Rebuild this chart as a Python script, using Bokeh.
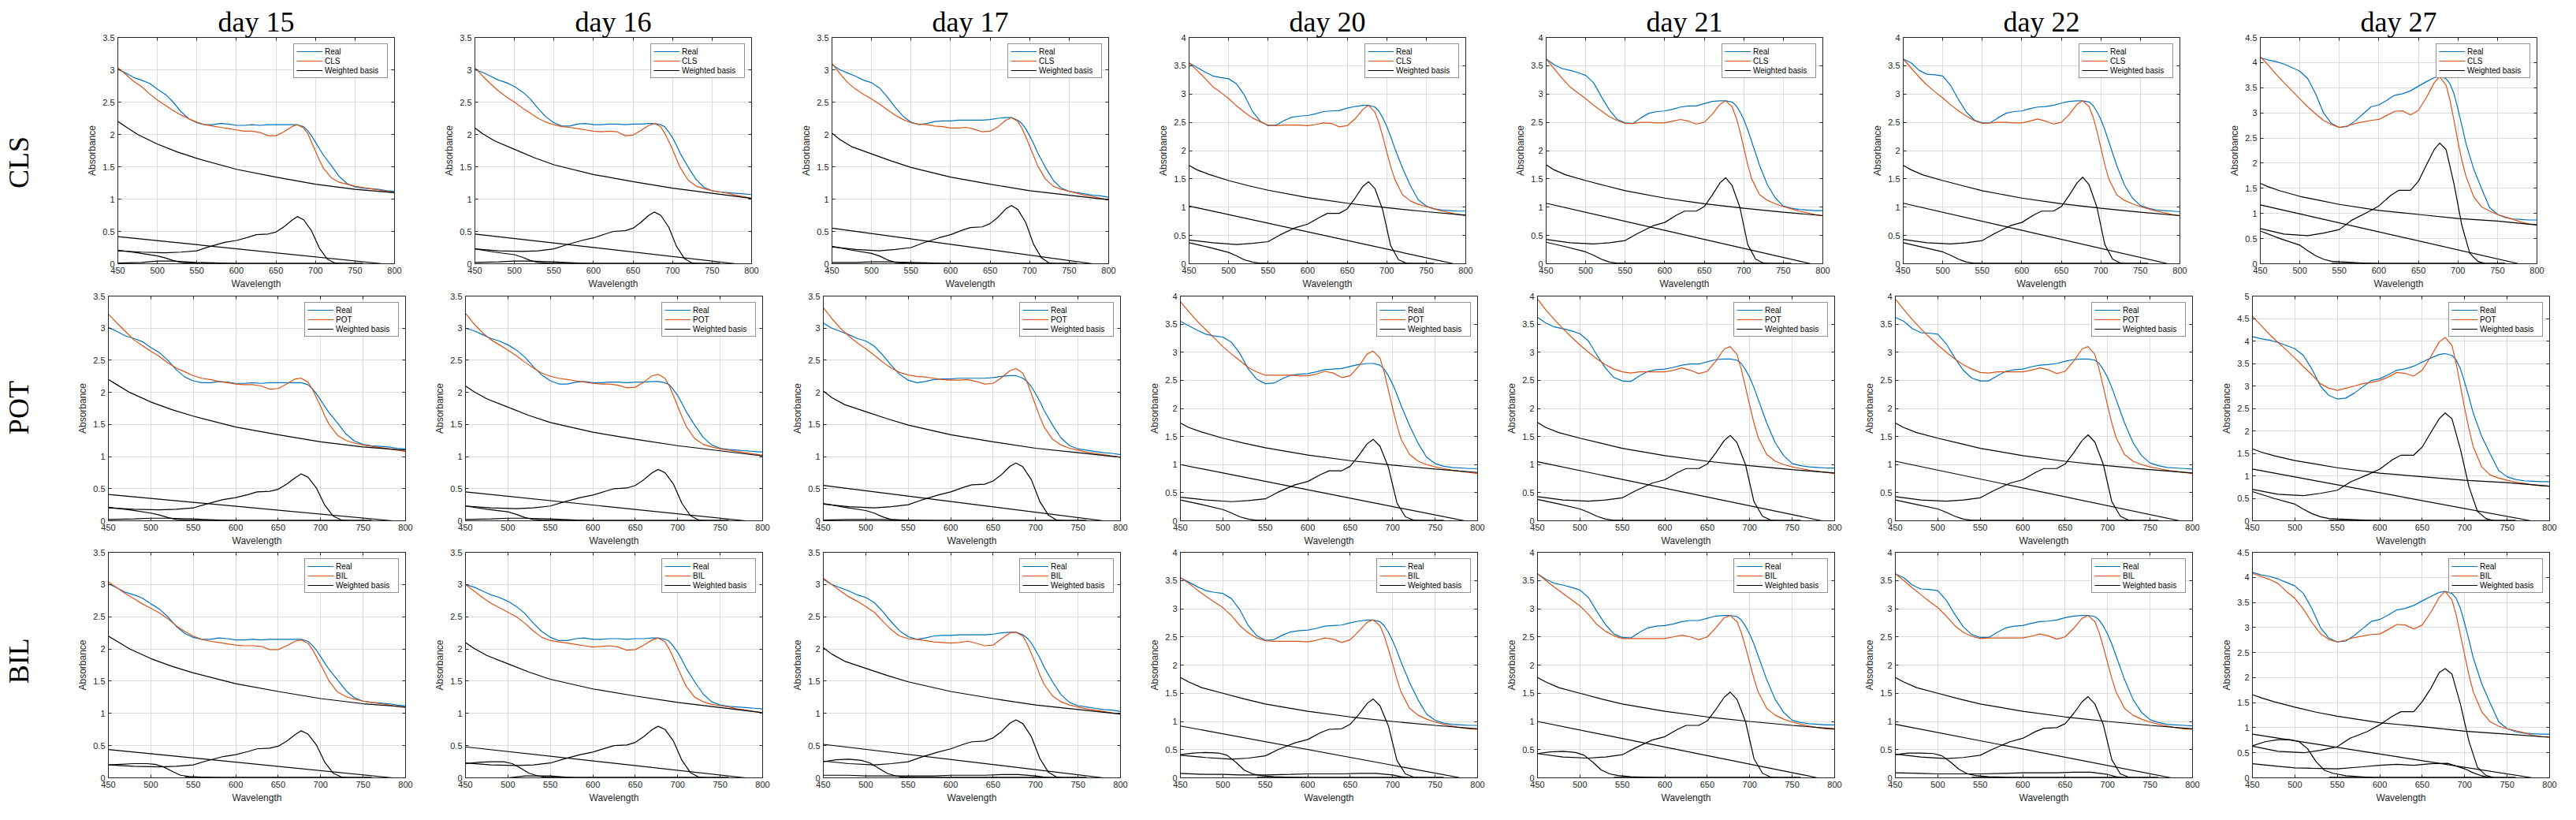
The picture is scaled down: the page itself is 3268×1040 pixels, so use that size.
import math
from bokeh.plotting import figure
from bokeh.models import (Range1d, FixedTicker, LinearAxis, Legend, LegendItem, Label,
                          CustomJSTickFormatter)
from bokeh.layouts import row, column
from bokeh.embed import file_html
from bokeh.resources import INLINE

# ---------------------------------------------------------------- data
DAYS = [15, 16, 17, 20, 21, 22, 27]
METHODS = ["CLS", "POT", "BIL"]
X_TICKS = [450, 500, 550, 600, 650, 700, 750, 800]
YMAX_CLS = [3.5, 3.5, 3.5, 4, 4, 4, 4.5]
YMAX_POT = [3.5, 3.5, 3.5, 4, 4, 4, 5]
YMAX_BIL = [3.5, 3.5, 3.5, 4, 4, 4, 4.5]

W = [450, 460, 470, 480, 490, 500, 510, 520, 530, 540, 550, 560, 570, 580, 590, 600, 610, 620, 630, 640, 650, 660, 670,
     677, 685, 690, 695, 700, 705, 710,
     720, 730, 740, 750, 760, 770, 780, 790, 800]

REAL_15 = [3.01, 2.95, 2.88, 2.84, 2.79, 2.70, 2.62, 2.50, 2.35, 2.24, 2.18, 2.15, 2.15, 2.17, 2.16, 2.14, 2.14, 2.15, 2.14, 2.15, 2.15, 2.15, 2.15,
           2.15, 2.12, 2.06, 1.98, 1.88, 1.78, 1.68,
           1.52, 1.35, 1.24, 1.19, 1.17, 1.16, 1.15, 1.13, 1.12]
REAL_16 = [3.00, 2.96, 2.90, 2.84, 2.80, 2.74, 2.66, 2.55, 2.40, 2.27, 2.18, 2.13, 2.13, 2.16, 2.17, 2.15, 2.15, 2.16, 2.16, 2.15, 2.16, 2.16, 2.17,
           2.17, 2.15, 2.12, 2.04, 1.95, 1.83, 1.70,
           1.49, 1.30, 1.18, 1.13, 1.11, 1.10, 1.09, 1.08, 1.07]
REAL_17 = [3.08, 3.00, 2.95, 2.90, 2.84, 2.80, 2.72, 2.58, 2.42, 2.28, 2.19, 2.15, 2.17, 2.20, 2.21, 2.21, 2.22, 2.22, 2.22, 2.22, 2.23, 2.25, 2.26,
           2.26, 2.22, 2.17, 2.09, 1.98, 1.86, 1.72,
           1.49, 1.29, 1.17, 1.12, 1.10, 1.08, 1.06, 1.05, 1.03]
REAL_20 = [3.55, 3.47, 3.39, 3.32, 3.29, 3.27, 3.18, 2.98, 2.70, 2.52, 2.44, 2.45, 2.53, 2.59, 2.61, 2.62, 2.65, 2.69, 2.70, 2.71, 2.75, 2.78, 2.80,
           2.80, 2.77, 2.70, 2.58, 2.43, 2.25, 2.05,
           1.69, 1.38, 1.13, 1.02, 0.97, 0.95, 0.94, 0.93, 0.93]
REAL_21 = [3.62, 3.52, 3.45, 3.42, 3.38, 3.33, 3.20, 2.95, 2.72, 2.55, 2.49, 2.48, 2.58, 2.66, 2.69, 2.70, 2.73, 2.77, 2.79, 2.79, 2.83, 2.87, 2.88,
           2.88, 2.86, 2.80, 2.69, 2.55, 2.37, 2.16,
           1.74, 1.39, 1.16, 1.02, 0.98, 0.96, 0.95, 0.94, 0.94]
REAL_22 = [3.62, 3.55, 3.42, 3.35, 3.34, 3.32, 3.15, 2.90, 2.68, 2.54, 2.49, 2.49, 2.58, 2.66, 2.69, 2.70, 2.74, 2.77, 2.78, 2.80, 2.84, 2.87, 2.88,
           2.88, 2.86, 2.80, 2.69, 2.55, 2.37, 2.16,
           1.74, 1.39, 1.16, 1.03, 0.98, 0.95, 0.94, 0.93, 0.92]
REAL_27 = [4.10, 4.05, 4.02, 3.97, 3.90, 3.83, 3.68, 3.38, 3.00, 2.79, 2.71, 2.73, 2.84, 2.98, 3.12, 3.16, 3.25, 3.35, 3.38, 3.44, 3.53, 3.62, 3.70,
           3.72, 3.68, 3.58, 3.38, 3.08, 2.75, 2.40,
           1.88, 1.49, 1.12, 0.98, 0.92, 0.89, 0.88, 0.87, 0.87]

CLS_15 = [3.03, 2.93, 2.82, 2.74, 2.63, 2.53, 2.45, 2.37, 2.30, 2.24, 2.19, 2.15, 2.13, 2.11, 2.09, 2.07, 2.05, 2.05, 2.03, 1.98, 1.98, 2.04, 2.12,
          2.15, 2.10, 2.02, 1.88, 1.74, 1.60, 1.48,
          1.33, 1.26, 1.23, 1.20, 1.18, 1.16, 1.14, 1.12, 1.10]
CLS_16 = [3.03, 2.90, 2.78, 2.67, 2.58, 2.50, 2.41, 2.33, 2.25, 2.19, 2.15, 2.12, 2.11, 2.09, 2.07, 2.05, 2.04, 2.05, 2.04, 1.98, 1.99, 2.06, 2.14,
          2.17, 2.12, 2.02, 1.90, 1.77, 1.62, 1.48,
          1.29, 1.20, 1.16, 1.13, 1.11, 1.09, 1.06, 1.04, 1.01]
CLS_17 = [3.10, 2.94, 2.80, 2.70, 2.62, 2.55, 2.47, 2.38, 2.30, 2.23, 2.18, 2.16, 2.15, 2.13, 2.12, 2.10, 2.10, 2.11, 2.08, 2.04, 2.05, 2.12, 2.22,
          2.26, 2.20, 2.10, 1.97, 1.82, 1.67, 1.52,
          1.31, 1.20, 1.15, 1.12, 1.09, 1.06, 1.04, 1.01, 0.99]
CLS_20 = [3.55, 3.42, 3.28, 3.13, 3.03, 2.92, 2.79, 2.68, 2.58, 2.51, 2.45, 2.44, 2.45, 2.45, 2.45, 2.44, 2.46, 2.49, 2.48, 2.42, 2.44, 2.56, 2.73,
          2.80, 2.68, 2.50, 2.25, 1.98, 1.72, 1.50,
          1.22, 1.11, 1.05, 1.01, 0.97, 0.93, 0.90, 0.87, 0.85]
CLS_21 = [3.62, 3.45, 3.28, 3.13, 3.02, 2.92, 2.80, 2.70, 2.60, 2.53, 2.48, 2.48, 2.50, 2.50, 2.49, 2.49, 2.52, 2.55, 2.52, 2.47, 2.50, 2.64, 2.82,
          2.88, 2.78, 2.60, 2.35, 2.05, 1.75, 1.50,
          1.22, 1.12, 1.06, 1.01, 0.97, 0.93, 0.90, 0.87, 0.85]
CLS_22 = [3.62, 3.46, 3.30, 3.16, 3.04, 2.93, 2.81, 2.70, 2.61, 2.53, 2.48, 2.49, 2.50, 2.50, 2.49, 2.49, 2.52, 2.56, 2.52, 2.47, 2.50, 2.64, 2.82,
          2.88, 2.78, 2.60, 2.35, 2.05, 1.75, 1.50,
          1.22, 1.12, 1.06, 1.01, 0.97, 0.93, 0.90, 0.87, 0.85]
CLS_27 = [4.12, 3.95, 3.77, 3.60, 3.44, 3.28, 3.12, 2.98, 2.85, 2.77, 2.71, 2.74, 2.79, 2.82, 2.85, 2.87, 2.95, 3.03, 3.04, 2.96, 3.05, 3.30, 3.60,
          3.72, 3.55, 3.25, 2.85, 2.43, 2.05, 1.75,
          1.33, 1.13, 1.05, 0.98, 0.93, 0.88, 0.83, 0.79, 0.78]

POT_15 = [3.22, 3.08, 2.95, 2.82, 2.73, 2.64, 2.56, 2.46, 2.38, 2.32, 2.26, 2.22, 2.20, 2.17, 2.15, 2.13, 2.12, 2.12, 2.10, 2.05, 2.06, 2.13, 2.21,
          2.22, 2.16, 2.06, 1.92, 1.78, 1.63, 1.50,
          1.33, 1.25, 1.21, 1.18, 1.16, 1.14, 1.12, 1.10, 1.08]
POT_16 = [3.23, 3.07, 2.93, 2.82, 2.74, 2.66, 2.57, 2.47, 2.38, 2.30, 2.25, 2.22, 2.20, 2.18, 2.16, 2.14, 2.13, 2.13, 2.11, 2.07, 2.08, 2.16, 2.26,
          2.28, 2.22, 2.10, 1.95, 1.78, 1.62, 1.47,
          1.28, 1.19, 1.15, 1.12, 1.10, 1.08, 1.06, 1.04, 1.02]
POT_17 = [3.32, 3.15, 3.00, 2.88, 2.77, 2.68, 2.58, 2.47, 2.38, 2.31, 2.27, 2.25, 2.24, 2.22, 2.20, 2.19, 2.19, 2.20, 2.17, 2.13, 2.14, 2.23, 2.34,
          2.37, 2.30, 2.16, 1.98, 1.80, 1.62, 1.46,
          1.27, 1.18, 1.13, 1.10, 1.07, 1.05, 1.03, 1.01, 0.99]
POT_20 = [3.90, 3.72, 3.55, 3.40, 3.25, 3.10, 2.97, 2.85, 2.73, 2.65, 2.59, 2.59, 2.59, 2.59, 2.58, 2.58, 2.61, 2.66, 2.63, 2.55, 2.58, 2.75, 2.97,
          3.02, 2.90, 2.65, 2.32, 2.00, 1.70, 1.45,
          1.18, 1.06, 1.00, 0.96, 0.93, 0.90, 0.88, 0.86, 0.84]
POT_21 = [3.95, 3.75, 3.58, 3.42, 3.27, 3.13, 3.00, 2.88, 2.78, 2.70, 2.65, 2.63, 2.65, 2.65, 2.65, 2.65, 2.68, 2.72, 2.68, 2.62, 2.66, 2.84, 3.06,
          3.10, 2.96, 2.70, 2.38, 2.05, 1.74, 1.48,
          1.18, 1.06, 1.00, 0.96, 0.93, 0.90, 0.88, 0.86, 0.84]
POT_22 = [3.95, 3.76, 3.58, 3.42, 3.27, 3.13, 3.00, 2.88, 2.78, 2.70, 2.64, 2.63, 2.65, 2.65, 2.65, 2.65, 2.68, 2.72, 2.69, 2.62, 2.66, 2.84, 3.06,
          3.10, 2.96, 2.70, 2.38, 2.05, 1.74, 1.48,
          1.18, 1.06, 1.00, 0.96, 0.93, 0.90, 0.88, 0.86, 0.84]
POT_27 = [4.55, 4.35, 4.15, 3.97, 3.80, 3.62, 3.43, 3.25, 3.05, 2.95, 2.90, 2.95, 3.00, 3.05, 3.08, 3.12, 3.20, 3.30, 3.28, 3.22, 3.35, 3.65, 3.98,
          4.08, 3.90, 3.50, 3.00, 2.50, 2.05, 1.65,
          1.20, 1.02, 0.95, 0.90, 0.86, 0.83, 0.80, 0.78, 0.77]

BIL_15 = [3.04, 2.95, 2.86, 2.78, 2.70, 2.63, 2.56, 2.47, 2.36, 2.27, 2.20, 2.15, 2.12, 2.10, 2.08, 2.06, 2.05, 2.05, 2.04, 1.99, 1.99, 2.05, 2.12,
          2.14, 2.09, 2.00, 1.88, 1.76, 1.63, 1.50,
          1.33, 1.26, 1.22, 1.19, 1.17, 1.15, 1.13, 1.11, 1.09]
BIL_16 = [3.00, 2.90, 2.80, 2.71, 2.64, 2.57, 2.50, 2.40, 2.28, 2.18, 2.13, 2.11, 2.09, 2.07, 2.05, 2.03, 2.04, 2.05, 2.03, 1.98, 1.99, 2.06, 2.14,
          2.17, 2.11, 2.00, 1.86, 1.71, 1.56, 1.42,
          1.25, 1.18, 1.14, 1.12, 1.10, 1.07, 1.05, 1.03, 1.01]
BIL_17 = [3.10, 3.00, 2.90, 2.81, 2.74, 2.66, 2.57, 2.43, 2.30, 2.20, 2.16, 2.15, 2.13, 2.11, 2.10, 2.09, 2.10, 2.12, 2.09, 2.05, 2.06, 2.16, 2.25,
          2.26, 2.20, 2.08, 1.93, 1.77, 1.60, 1.45,
          1.27, 1.18, 1.13, 1.10, 1.07, 1.05, 1.03, 1.01, 0.99]
BIL_20 = [3.55, 3.45, 3.33, 3.22, 3.12, 3.02, 2.88, 2.70, 2.57, 2.48, 2.43, 2.42, 2.42, 2.42, 2.42, 2.41, 2.44, 2.48, 2.46, 2.40, 2.45, 2.60, 2.76,
          2.80, 2.70, 2.52, 2.28, 2.02, 1.75, 1.52,
          1.23, 1.11, 1.04, 0.99, 0.95, 0.92, 0.89, 0.87, 0.86]
BIL_21 = [3.62, 3.50, 3.38, 3.27, 3.16, 3.05, 2.90, 2.72, 2.60, 2.52, 2.47, 2.47, 2.47, 2.47, 2.47, 2.47, 2.50, 2.53, 2.50, 2.45, 2.50, 2.66, 2.84,
          2.88, 2.77, 2.58, 2.32, 2.04, 1.76, 1.52,
          1.23, 1.11, 1.04, 0.99, 0.95, 0.92, 0.89, 0.87, 0.86]
BIL_22 = [3.62, 3.50, 3.37, 3.25, 3.13, 3.02, 2.87, 2.70, 2.58, 2.51, 2.47, 2.48, 2.48, 2.48, 2.48, 2.48, 2.51, 2.55, 2.52, 2.46, 2.50, 2.65, 2.83,
          2.88, 2.77, 2.58, 2.32, 2.04, 1.76, 1.52,
          1.23, 1.11, 1.04, 0.99, 0.95, 0.92, 0.89, 0.87, 0.86]
BIL_27 = [4.08, 4.02, 3.96, 3.88, 3.72, 3.58, 3.37, 3.10, 2.88, 2.76, 2.71, 2.75, 2.80, 2.83, 2.86, 2.87, 2.96, 3.06, 3.05, 2.97, 3.05, 3.30, 3.60,
          3.72, 3.55, 3.25, 2.85, 2.45, 2.05, 1.72,
          1.32, 1.12, 1.03, 0.98, 0.94, 0.90, 0.85, 0.82, 0.81]

# weighted basis components
SCAT_WL = [450, 460, 475, 500, 525, 550, 600, 650, 700, 750, 800]
SCAT_15 = [2.20, 2.12, 2.00, 1.85, 1.73, 1.63, 1.46, 1.34, 1.23, 1.15, 1.10]
SCAT_16 = [2.10, 2.01, 1.90, 1.77, 1.64, 1.53, 1.38, 1.27, 1.17, 1.09, 1.01]
SCAT_17 = [2.02, 1.92, 1.81, 1.70, 1.59, 1.49, 1.34, 1.23, 1.13, 1.06, 0.99]
SCAT_20 = [1.74, 1.66, 1.58, 1.47, 1.38, 1.30, 1.17, 1.07, 0.99, 0.92, 0.86]
SCAT_21 = [1.75, 1.66, 1.57, 1.47, 1.38, 1.29, 1.16, 1.06, 0.98, 0.91, 0.85]
SCAT_22 = [1.74, 1.66, 1.57, 1.47, 1.38, 1.29, 1.16, 1.06, 0.98, 0.91, 0.85]
SCAT_27 = [1.60, 1.53, 1.45, 1.34, 1.26, 1.18, 1.06, 0.98, 0.90, 0.85, 0.77]
SCAT_BIL_20 = [1.78, 1.70, 1.60, 1.50, 1.40, 1.31, 1.18, 1.08, 1.00, 0.93, 0.87]
SCAT_BIL_27 = [1.66, 1.60, 1.52, 1.41, 1.31, 1.23, 1.10, 1.02, 0.93, 0.87, 0.81]

# straight component: value at 450 nm and wavelength where it reaches zero
LIN_START_CLS = [0.42, 0.46, 0.55, 1.02, 1.07, 1.07, 1.17]
LIN_ZERO_CLS = [785, 780, 780, 785, 785, 785, 777]
LIN_START_POT = [0.41, 0.45, 0.55, 1.00, 1.05, 1.06, 1.15]
LIN_ZERO_POT = [785, 780, 780, 785, 785, 785, 778]
LIN_START_BIL = [0.44, 0.48, 0.52, 0.92, 1.00, 0.95, 0.87]
LIN_ZERO_BIL = [785, 780, 780, 780, 780, 775, 780]

CAR_WL = [450, 475, 500, 510, 520, 530, 540, 550, 575, 600]
CAR_15 = [0.21, 0.17, 0.12, 0.09, 0.05, 0.02, 0.01, 0.00, 0.00, 0.00]
CAR_16 = [0.23, 0.18, 0.14, 0.10, 0.05, 0.02, 0.01, 0.00, 0.00, 0.00]
CAR_17 = [0.27, 0.21, 0.16, 0.12, 0.06, 0.02, 0.01, 0.00, 0.00, 0.00]
CAR_20 = [0.37, 0.29, 0.20, 0.14, 0.07, 0.03, 0.01, 0.00, 0.00, 0.00]
CAR_21 = [0.38, 0.30, 0.21, 0.15, 0.08, 0.03, 0.01, 0.00, 0.00, 0.00]
CAR_22 = [0.37, 0.29, 0.21, 0.15, 0.08, 0.03, 0.01, 0.00, 0.00, 0.00]
CAR_27 = [0.65, 0.50, 0.37, 0.26, 0.16, 0.09, 0.05, 0.04, 0.02, 0.00]

CARB_WL = [450, 465, 480, 495, 505, 515, 525, 535, 545, 560, 580, 600]
CARB_15 = [0.20, 0.21, 0.22, 0.22, 0.21, 0.17, 0.10, 0.04, 0.02, 0.01, 0.00, 0.00]
CARB_16 = [0.22, 0.24, 0.25, 0.25, 0.22, 0.15, 0.07, 0.03, 0.01, 0.00, 0.00, 0.00]
CARB_17 = [0.25, 0.28, 0.29, 0.27, 0.23, 0.15, 0.07, 0.03, 0.01, 0.00, 0.00, 0.00]
CARB_20 = [0.41, 0.44, 0.45, 0.44, 0.40, 0.28, 0.14, 0.07, 0.04, 0.02, 0.01, 0.00]
CARB_21 = [0.43, 0.46, 0.47, 0.45, 0.40, 0.28, 0.14, 0.07, 0.04, 0.02, 0.01, 0.00]
CARB_22 = [0.41, 0.44, 0.44, 0.43, 0.39, 0.28, 0.15, 0.07, 0.04, 0.02, 0.01, 0.00]
CARB_27 = [0.64, 0.72, 0.76, 0.76, 0.72, 0.58, 0.32, 0.15, 0.09, 0.04, 0.02, 0.00]

CHL_WL = [450, 480, 510, 530, 550, 565, 585, 600, 615, 625, 640, 650, 660, 670, 677, 685, 695, 705, 715, 725, 735]
CHL_15 = [0.20, 0.18, 0.17, 0.18, 0.20, 0.26, 0.33, 0.36, 0.41, 0.45, 0.46, 0.49, 0.57, 0.67, 0.73, 0.68, 0.51, 0.24, 0.07, 0.01, 0.00]
CHL_16 = [0.23, 0.20, 0.19, 0.20, 0.23, 0.29, 0.36, 0.40, 0.46, 0.50, 0.51, 0.55, 0.64, 0.75, 0.80, 0.75, 0.57, 0.27, 0.08, 0.01, 0.00]
CHL_17 = [0.26, 0.22, 0.20, 0.22, 0.25, 0.32, 0.40, 0.45, 0.52, 0.56, 0.57, 0.62, 0.72, 0.85, 0.90, 0.84, 0.64, 0.30, 0.09, 0.01, 0.00]
CHL_20 = [0.42, 0.37, 0.34, 0.36, 0.39, 0.51, 0.64, 0.70, 0.82, 0.89, 0.89, 0.97, 1.16, 1.37, 1.45, 1.33, 0.95, 0.32, 0.07, 0.01, 0.00]
CHL_21 = [0.43, 0.37, 0.35, 0.37, 0.41, 0.53, 0.67, 0.73, 0.86, 0.93, 0.93, 1.01, 1.21, 1.43, 1.52, 1.39, 1.00, 0.34, 0.08, 0.01, 0.00]
CHL_22 = [0.43, 0.37, 0.35, 0.37, 0.41, 0.53, 0.67, 0.73, 0.86, 0.93, 0.93, 1.01, 1.21, 1.43, 1.53, 1.40, 1.00, 0.34, 0.08, 0.01, 0.00]
CHL_27 = [0.70, 0.59, 0.56, 0.61, 0.68, 0.86, 1.02, 1.15, 1.36, 1.46, 1.46, 1.64, 1.96, 2.27, 2.40, 2.27, 1.59, 0.76, 0.21, 0.05, 0.00]
CHL_BIL_20 = [0.40, 0.36, 0.33, 0.35, 0.39, 0.50, 0.62, 0.68, 0.80, 0.86, 0.87, 0.95, 1.12, 1.32, 1.40, 1.28, 0.92, 0.31, 0.07, 0.01, 0.00]
CHL_BIL_22 = [0.42, 0.37, 0.34, 0.36, 0.40, 0.51, 0.64, 0.70, 0.82, 0.88, 0.89, 0.96, 1.14, 1.35, 1.44, 1.31, 0.94, 0.32, 0.07, 0.01, 0.00]
CHL_BIL_27 = [0.63, 0.53, 0.50, 0.55, 0.62, 0.79, 0.92, 1.06, 1.23, 1.32, 1.32, 1.52, 1.78, 2.10, 2.18, 2.07, 1.47, 0.73, 0.21, 0.05, 0.00]

LOW_WL = [450, 480, 500, 520, 550, 580, 600, 620, 640, 660, 680, 700, 710, 720, 730]
LOW_CLS_15 = [0.01, 0.02, 0.04, 0.04, 0.02, 0.01, 0.0, 0.0, 0.0, 0.0, 0.0, 0.0, 0.0, 0.0, 0.0]
LOW_CLS_16 = [0.02, 0.03, 0.04, 0.04, 0.03, 0.01, 0.0, 0.0, 0.0, 0.0, 0.0, 0.0, 0.0, 0.0, 0.0]
LOW_CLS_17 = [0.02, 0.02, 0.03, 0.03, 0.02, 0.01, 0.0, 0.0, 0.0, 0.0, 0.0, 0.0, 0.0, 0.0, 0.0]
LOW_POT_15 = [0.02, 0.03, 0.04, 0.04, 0.03, 0.01, 0.0, 0.0, 0.0, 0.0, 0.0, 0.0, 0.0, 0.0, 0.0]
LOW_POT_16 = [0.02, 0.03, 0.04, 0.04, 0.03, 0.01, 0.0, 0.0, 0.0, 0.0, 0.0, 0.0, 0.0, 0.0, 0.0]
LOW_POT_17 = [0.01, 0.02, 0.02, 0.02, 0.01, 0.0, 0.0, 0.0, 0.0, 0.0, 0.0, 0.0, 0.0, 0.0, 0.0]
LOW_BIL_16 = [0.0, 0.0, 0.0, 0.03, 0.03, 0.0, 0.0, 0.0, 0.0, 0.0, 0.0, 0.0, 0.0, 0.0, 0.0]
LOW_BIL_17 = [0.04, 0.04, 0.03, 0.03, 0.03, 0.03, 0.04, 0.04, 0.04, 0.05, 0.05, 0.03, 0.01, 0.0, 0.0]
LOW_BIL_20 = [0.08, 0.06, 0.06, 0.05, 0.05, 0.06, 0.07, 0.07, 0.07, 0.08, 0.08, 0.05, 0.02, 0.0, 0.0]
LOW_BIL_22 = [0.09, 0.08, 0.07, 0.07, 0.07, 0.08, 0.09, 0.09, 0.09, 0.10, 0.10, 0.06, 0.02, 0.0, 0.0]
LOW_BIL_27 = [0.28, 0.23, 0.20, 0.19, 0.18, 0.22, 0.25, 0.27, 0.25, 0.28, 0.29, 0.18, 0.10, 0.04, 0.0]

ZERO_WL = [540, 760]
ZERO_V = [0.0, 0.0]

REAL = [REAL_15, REAL_16, REAL_17, REAL_20, REAL_21, REAL_22, REAL_27]
MODEL = {"CLS": [CLS_15, CLS_16, CLS_17, CLS_20, CLS_21, CLS_22, CLS_27],
         "POT": [POT_15, POT_16, POT_17, POT_20, POT_21, POT_22, POT_27],
         "BIL": [BIL_15, BIL_16, BIL_17, BIL_20, BIL_21, BIL_22, BIL_27]}
YMAX = {"CLS": YMAX_CLS, "POT": YMAX_POT, "BIL": YMAX_BIL}
SCAT_STD = [SCAT_15, SCAT_16, SCAT_17, SCAT_20, SCAT_21, SCAT_22, SCAT_27]
SCAT = {"CLS": SCAT_STD, "POT": SCAT_STD,
        "BIL": [SCAT_15, SCAT_16, SCAT_17, SCAT_BIL_20, SCAT_BIL_20, SCAT_BIL_20, SCAT_BIL_27]}
LIN = {"CLS": (LIN_START_CLS, LIN_ZERO_CLS), "POT": (LIN_START_POT, LIN_ZERO_POT),
       "BIL": (LIN_START_BIL, LIN_ZERO_BIL)}
CAR_STD = [CAR_15, CAR_16, CAR_17, CAR_20, CAR_21, CAR_22, CAR_27]
CAR = {"CLS": (CAR_WL, CAR_STD), "POT": (CAR_WL, CAR_STD),
       "BIL": (CARB_WL, [CARB_15, CARB_16, CARB_17, CARB_20, CARB_21, CARB_22, CARB_27])}
CHL_STD = [CHL_15, CHL_16, CHL_17, CHL_20, CHL_21, CHL_22, CHL_27]
CHL = {"CLS": CHL_STD, "POT": CHL_STD,
       "BIL": [CHL_15, CHL_16, CHL_17, CHL_BIL_20, CHL_21, CHL_BIL_22, CHL_BIL_27]}
LOW = {"CLS": [LOW_CLS_15, LOW_CLS_16, LOW_CLS_17, None, None, None, None],
       "POT": [LOW_POT_15, LOW_POT_16, LOW_POT_17, None, None, None, None],
       "BIL": [None, LOW_BIL_16, LOW_BIL_17, LOW_BIL_20, None, LOW_BIL_22, LOW_BIL_27]}

for arr in REAL + MODEL["CLS"] + MODEL["POT"] + MODEL["BIL"]:
    if len(arr) != len(W):
        raise SystemExit("length mismatch %d" % len(arr))

# ---------------------------------------------------------------- style / layout
BLUE = "#0072BD"
ORANGE = "#D95319"
AXC = "#262626"
GRIDC = "#dcdcdc"
SANS = "Liberation Sans"
SERIF = "Liberation Serif"
LW = 1.2

LABEL_W = 60
ROWS = [
    dict(top=47, fh=287, bot=34, fw=351, lefts=[157 + 453 * i for i in range(7)], bl=65, last_br=30, label_cy=212, page_top=8),
    dict(top=6, fh=285, bot=35, fw=377, lefts=[int(round(145 + 453.333 * i)) for i in range(7)], bl=52, last_br=15, label_cy=538, page_top=376),
    dict(top=5, fh=286, bot=39, fw=377, lefts=[int(round(145 + 453.333 * i)) for i in range(7)], bl=52, last_br=15, label_cy=861, page_top=702),
]

y_fmt_code = "return String(Math.round(tick*10)/10);"


def make_panel(ri, i, method, bl, br, geom):
    ymax = YMAX[method][i]
    fig = figure(frame_width=geom["fw"], frame_height=geom["fh"],
                 min_border_left=bl, min_border_right=br,
                 min_border_top=geom["top"], min_border_bottom=geom["bot"],
                 x_range=Range1d(450, 800), y_range=Range1d(0, ymax),
                 output_backend="svg", toolbar_location=None,
                 title=("day %d" % DAYS[i]) if ri == 0 else None)
    if ri == 0:
        fig.title.align = "center"
        fig.title.text_font = SERIF
        fig.title.text_font_size = "36px"
        fig.title.text_font_style = "normal"
        fig.title.text_color = "black"
        fig.title.standoff = 0
        fig.title.vertical_align = "bottom"
    fig.background_fill_color = "white"
    fig.border_fill_color = "white"
    fig.outline_line_color = AXC
    fig.outline_line_width = 1

    yt = FixedTicker(ticks=[k * 0.5 for k in range(int(round(ymax / 0.5)) + 1)])
    xt = FixedTicker(ticks=X_TICKS)
    fig.xaxis.ticker = xt
    fig.yaxis.ticker = yt
    fig.xgrid.ticker = xt
    fig.ygrid.ticker = yt
    fig.yaxis.formatter = CustomJSTickFormatter(code=y_fmt_code)
    for ax in (fig.xaxis[0], fig.yaxis[0]):
        ax.major_tick_in = 4
        ax.major_tick_out = 0
        ax.minor_tick_in = 0
        ax.minor_tick_out = 0
        ax.axis_line_color = AXC
        ax.major_tick_line_color = AXC
        ax.major_label_text_font = SANS
        ax.major_label_text_font_size = "11px"
        ax.major_label_text_color = AXC
        ax.axis_label_text_font = SANS
        ax.axis_label_text_font_size = "12px"
        ax.axis_label_text_font_style = "normal"
        ax.axis_label_text_color = AXC
        ax.major_label_standoff = 4
        ax.axis_label_standoff = 3
    fig.xaxis.axis_label = "Wavelength"
    fig.yaxis.axis_label = "Absorbance"
    fig.grid.grid_line_color = GRIDC
    fig.grid.grid_line_width = 1

    for loc, tk in (("right", yt), ("above", xt)):
        ax = LinearAxis(ticker=tk, formatter=CustomJSTickFormatter(code="return '';"),
                        major_tick_in=4, major_tick_out=0, minor_tick_in=0, minor_tick_out=0,
                        axis_line_color=None, major_tick_line_color=AXC,
                        major_label_standoff=0, major_label_text_font_size="1px")
        fig.add_layout(ax, loc)

    r_real = fig.line(W, REAL[i], line_color=BLUE, line_width=LW)
    r_mod = fig.line(W, MODEL[method][i], line_color=ORANGE, line_width=LW)
    r_b = fig.line(SCAT_WL, SCAT[method][i], line_color="black", line_width=LW)
    a0, z0 = LIN[method][0][i], LIN[method][1][i]
    fig.line([450, z0, 800], [a0, 0.0, 0.0], line_color="black", line_width=LW)
    cwl, cvals = CAR[method]
    fig.line(cwl, cvals[i], line_color="black", line_width=LW)
    fig.line(CHL_WL, CHL[method][i], line_color="black", line_width=LW)
    low = LOW[method][i]
    if low is not None:
        fig.line(LOW_WL, low, line_color="black", line_width=LW)
    fig.line(ZERO_WL, ZERO_V, line_color="black", line_width=2.5)

    legend = Legend(items=[LegendItem(label="Real", renderers=[r_real]),
                           LegendItem(label=method, renderers=[r_mod]),
                           LegendItem(label="Weighted basis", renderers=[r_b])],
                    location="top_right", margin=8, padding=3, spacing=0,
                    glyph_width=33, glyph_height=12, label_height=12, label_width=76,
                    label_standoff=3, label_text_font=SANS, label_text_font_size="10px",
                    label_text_color="black", border_line_color=AXC, border_line_width=1,
                    background_fill_color="white", background_fill_alpha=1.0)
    fig.add_layout(legend)
    return fig


rows = []
for ri, method in enumerate(METHODS):
    g = ROWS[ri]
    total_h = g["top"] + g["fh"] + g["bot"]
    lab = figure(width=LABEL_W, height=total_h, x_range=Range1d(0, LABEL_W), y_range=Range1d(0, total_h),
                 x_axis_type=None, y_axis_type=None, min_border=0, output_backend="svg",
                 toolbar_location=None)
    lab.grid.visible = False
    lab.outline_line_color = None
    lab.add_layout(Label(x=23, y=total_h - (g["label_cy"] - g["page_top"]), text=method,
                         angle=math.pi / 2, text_align="center", text_baseline="middle",
                         text_font=SERIF, text_font_size="36px", text_color="black"))
    figs = [lab]
    lefts = g["lefts"]
    start = 8 + LABEL_W
    for i in range(7):
        bl = lefts[i] - start
        if i < 6:
            next_start = lefts[i + 1] - g["bl"]
            br = next_start - (lefts[i] + g["fw"])
        else:
            next_start = None
            br = g["last_br"]
        figs.append(make_panel(ri, i, method, bl, br, g))
        start = next_start
    rows.append(row(*figs, spacing=0))

layout = column(*rows, spacing=0)
open("out.html", "w").write(file_html(layout, INLINE, title="Absorbance spectra"))
